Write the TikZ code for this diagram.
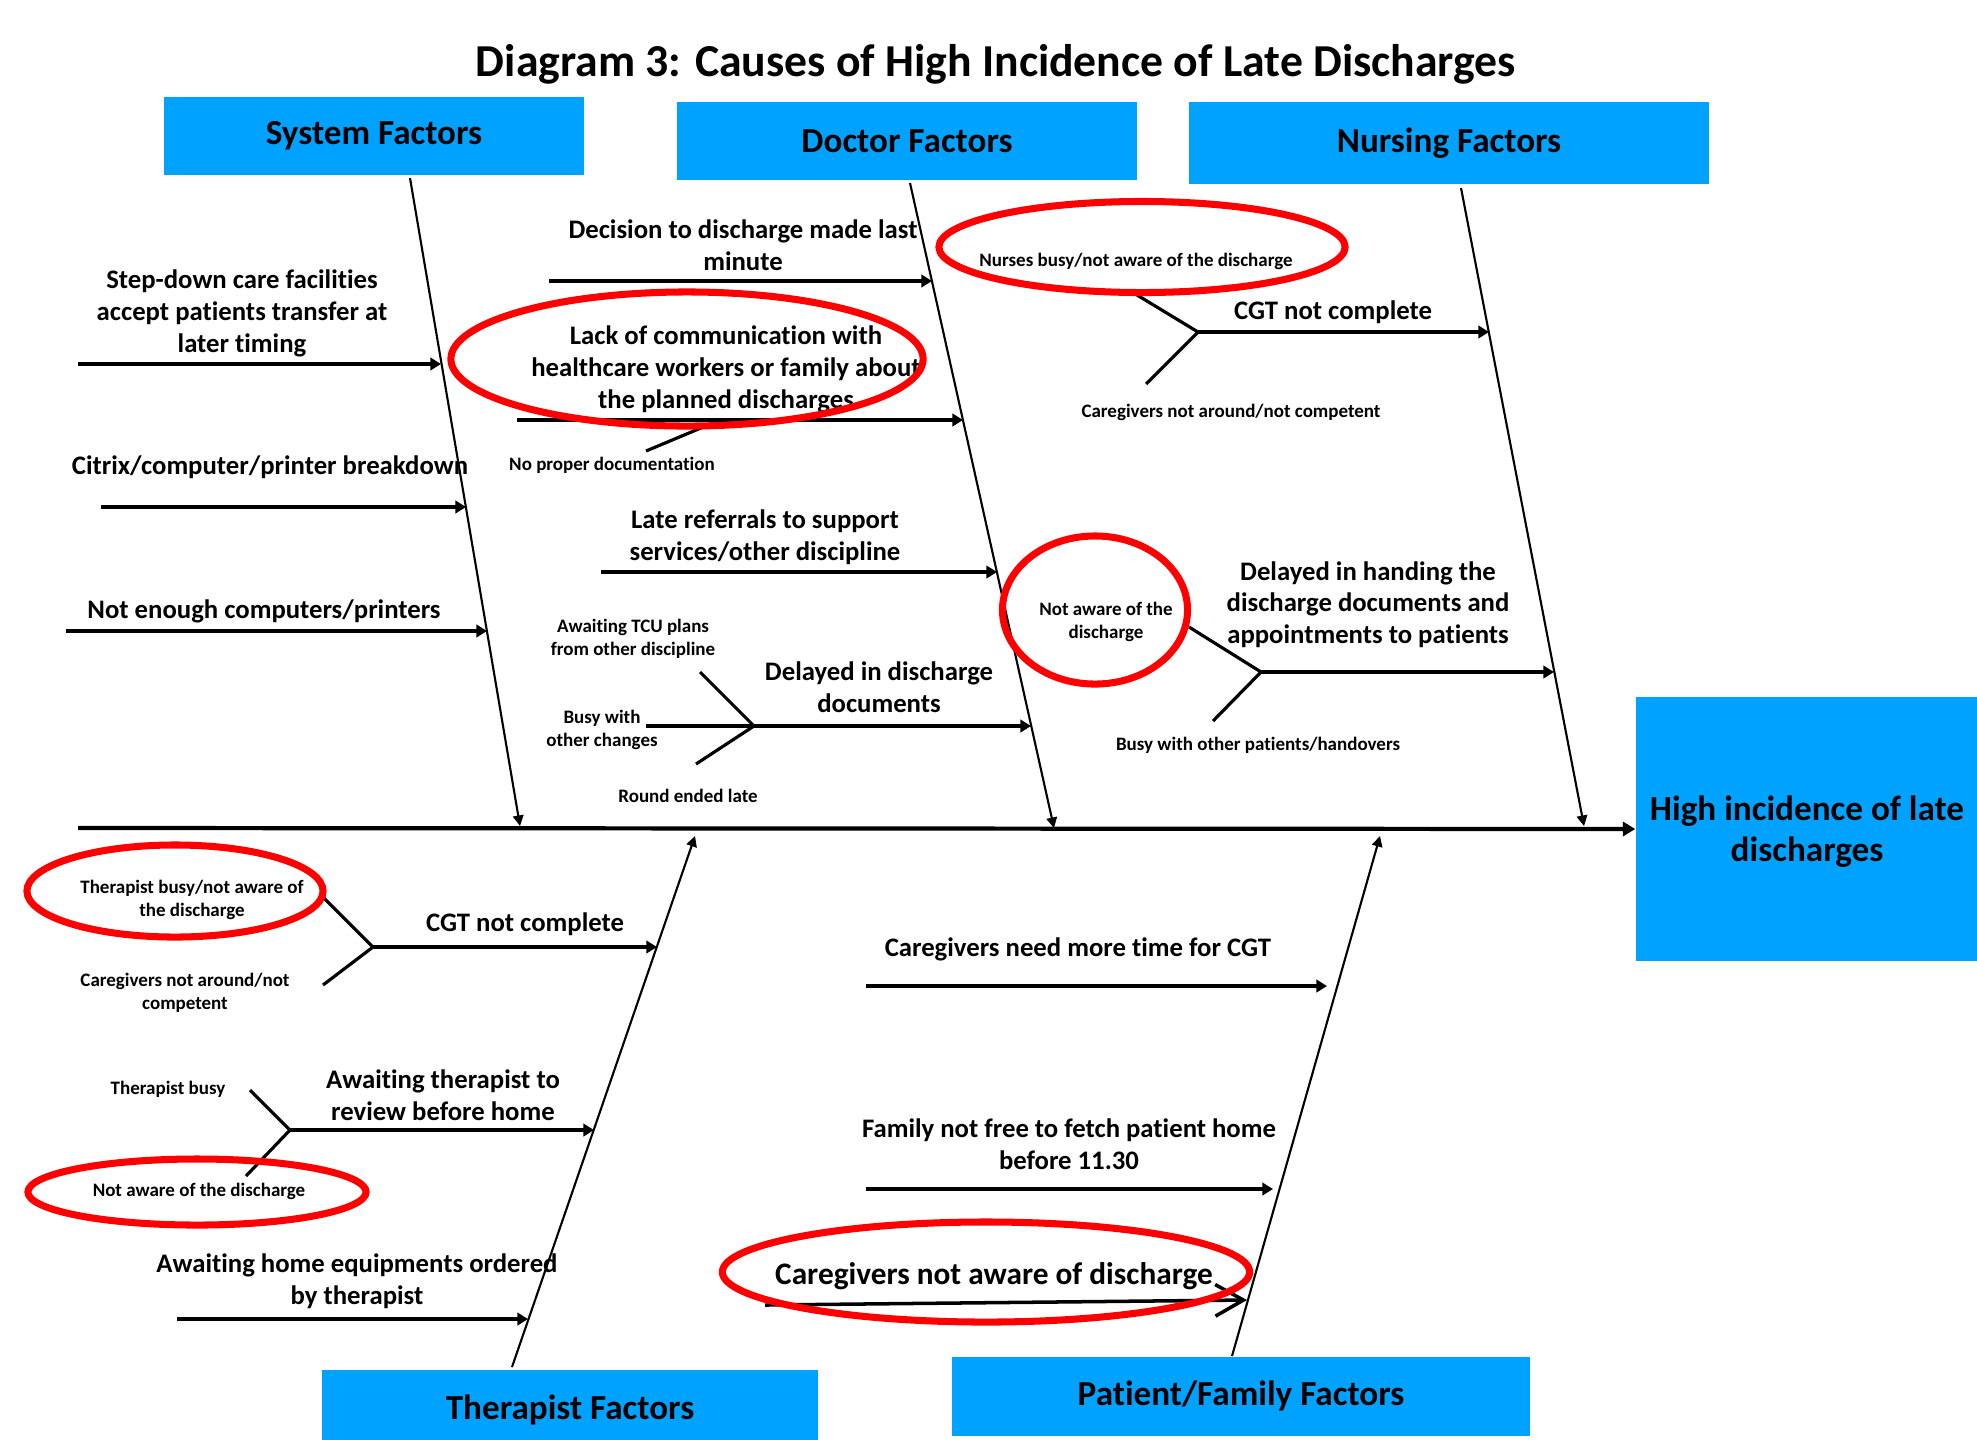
\documentclass[tikz,border=0pt]{standalone}
\usepackage{fontspec}
\setmainfont{Carlito}[Ligatures=NoCommon]
\usepackage{tikz}
\usetikzlibrary{calc,arrows.meta,positioning,shapes.geometric}
\definecolor{bluex}{HTML}{00A2FF}
\definecolor{redx}{HTML}{FF0000}
\tikzset{
  fbox/.style={fill=bluex,inner sep=0pt,align=center,font=\bfseries\fontsize{10}{11.8}\selectfont},
  ct/.style={align=center,inner sep=0pt,yshift=-0.7pt,font=\bfseries\fontsize{7.6}{9}\selectfont},
  st/.style={align=center,inner sep=0pt,yshift=-0.5pt,font=\bfseries\fontsize{5.4}{6.5}\selectfont},
  ring/.style={ellipse,draw=redx,line width=2pt,inner sep=0pt},
  bone/.style={-{Triangle[length=3pt,width=3pt]},line width=0.6pt},
  ar/.style={-{Triangle[length=3pt,width=3.5pt]},line width=1pt},
  fk/.style={line width=0.9pt},
  sp/.style={-{Triangle[length=3.5pt,width=4pt]},line width=1.2pt}
}
\begin{document}
\begin{tikzpicture}[x=0.01cm,y=-0.01cm]
\useasboundingbox (0,0) rectangle (1977,1439);
\node[font=\bfseries\fontsize{13}{15}\selectfont] (title) at (996,64) {Diagram 3: Causes of High Incidence of Late Discharges};
\node[fbox,minimum width=4.2cm,minimum height=0.78cm] (sys) at (374,136) {System Factors};
\node[fbox,minimum width=4.6cm,minimum height=0.78cm] (doc) at (907,141) {Doctor Factors};
\node[fbox,minimum width=5.19cm,minimum height=0.81cm] (nur) at (1449,143) {Nursing Factors};
\node[fbox,minimum width=4.95cm,minimum height=0.8cm] (ther) at (570,1410) {Therapist Factors};
\node[fbox,minimum width=5.78cm,minimum height=0.79cm] (pat) at (1241,1396) {Patient/Family Factors};
\node[fbox,minimum width=3.42cm,minimum height=2.63cm] (hd) at (1807,829) {\raisebox{-3.6pt}[0pt][0pt]{\begin{tabular}{@{}c@{}}High incidence of late\\discharges\end{tabular}}};

\coordinate (spL) at (78,828);
\coordinate (sysT) at (410,178);  \coordinate (sysB) at (520,826);
\coordinate (docT) at (910,183);  \coordinate (docB) at (1054,828);
\coordinate (nurT) at (1461,188); \coordinate (nurB) at (1584,826);
\coordinate (thB) at (512,1367);  \coordinate (thT) at (695,836);
\coordinate (paB) at (1232,1356); \coordinate (paT) at (1380,836);
\draw[sp] (spL) -- (hd.west);
\draw[bone] (sysT) -- (sysB);
\draw[bone] (docT) -- (docB);
\draw[bone] (nurT) -- (nurB);
\draw[bone] (thB) -- (thT);
\draw[bone] (paB) -- (paT);

\foreach \n/\xa/\xb/\yy in {sy1/78/441/364,sy2/101/466/507,sy3/66/487/631,
  dc1/549/932/281,dc2/517/963/420,dc3/601/997/572,dc4/646/1031/726,
  nu1/1198/1489/332,nu2/1261/1554/672,
  th1/373/657/947,th2/290/594/1130,th3/177/528/1319,
  pa1/866/1327/986,pa2/866/1273/1189}{
  \coordinate (\n-s) at (\xa,\yy);
  \coordinate (\n-e) at (\xb,\yy);
  \draw[ar] (\n-s) -- (\n-e);
}
\coordinate (pa3-s) at (765,1305);
\coordinate (pa3-e) at (1247,1300);
\draw[line width=1pt,-{Straight Barb[length=8pt,width=9pt]}] (pa3-s) -- (pa3-e);

\coordinate (dcF) at (754,726);
\coordinate (dcU) at (700,672);   \coordinate (dcD) at (696,764);
\coordinate (nu1U) at (1137,295); \coordinate (nu1D) at (1146,384);
\coordinate (nu2U) at (1189,627); \coordinate (nu2D) at (1213,721);
\coordinate (th1U) at (322,896);  \coordinate (th1D) at (323,985);
\coordinate (th2U) at (250,1090); \coordinate (th2D) at (246,1176);
\coordinate (dcN1) at (646,451);  \coordinate (dcN2) at (720,420);
\draw[fk] (dcU) -- (dcF) -- (dcD);
\draw[fk] (nu1U) -- (nu1-s) -- (nu1D);
\draw[fk] (nu2U) -- (nu2-s) -- (nu2D);
\draw[fk] (th1U) -- (th1-s) -- (th1D);
\draw[fk] (th2U) -- (th2-s) -- (th2D);
\draw[fk] (dcN1) -- (dcN2);

\node[ct] (tStep) at (242,311) {Step-down care facilities\\accept patients transfer at\\later timing};
\node[ct] (tCitrix) at (270,465) {Citrix/computer/printer breakdown};
\node[ct] (tNotEn) at (264,609) {Not enough computers/printers};
\node[ct] (tDecis) at (743,243) {Decision to discharge made last\\minute};
\node[ct] (tLack) at (726,367) {Lack of communication with\\healthcare workers or family about\\the planned discharges};
\node[ct] (tLate) at (765,535) {Late referrals to support\\services/other discipline};
\node[ct] (tDelDoc) at (879,685) {Delayed in discharge\\documents};
\node[ct] (tCgtN) at (1333,310) {CGT not complete};
\node[ct] (tHand) at (1368,602) {Delayed in handing the\\discharge documents and\\appointments to patients};
\node[ct] (tCgtT) at (525,922) {CGT not complete};
\node[ct] (tAwTh) at (443,1093) {Awaiting therapist to\\review before home};
\node[ct] (tAwEq) at (357,1279) {Awaiting home equipments ordered\\by therapist};
\node[ct] (tCgNeed) at (1078,947) {Caregivers need more time for CGT};
\node[ct] (tFam) at (1069,1142) {Family not free to fetch patient home\\before 11.30};
\node[ct,font=\bfseries\fontsize{8.9}{10.5}\selectfont] (tCgAw) at (994,1274) {Caregivers not aware of discharge};

\node[st] (tNoDoc) at (612,464) {No proper documentation};
\node[st] (tTcu) at (633,637) {Awaiting TCU plans\\from other discipline};
\node[st] (tBusyCh) at (602,728) {Busy with\\other changes};
\node[st] (tRound) at (688,794) {Round ended late};
\node[st] (tNurBusy) at (1136,260) {Nurses busy/not aware of the discharge};
\node[st] (tCgNur) at (1231,411) {Caregivers not around/not competent};
\node[st] (tNotAw) at (1106,620) {Not aware of the\\discharge};
\node[st] (tBusyPat) at (1258,744) {Busy with other patients/handovers};
\node[st] (tThBusy) at (192,898) {Therapist busy/not aware of\\the discharge};
\node[st] (tCgTh) at (185,991) {Caregivers not around/not\\competent};
\node[st] (tThB) at (168,1088) {Therapist busy};
\node[st] (tNotAwT) at (199,1190) {Not aware of the discharge};

\node[ring,minimum width=4.72cm,minimum height=1.34cm] (rLack) at (687,359) {};
\node[ring,minimum width=4.06cm,minimum height=0.91cm] (rNur) at (1142,247) {};
\node[ring,minimum width=1.85cm,minimum height=1.48cm] (rNotAw) at (1095,610) {};
\node[ring,minimum width=2.96cm,minimum height=0.92cm] (rTh) at (175,891) {};
\node[ring,minimum width=3.38cm,minimum height=0.66cm] (rNotAwT) at (197,1192) {};
\node[ring,minimum width=5.27cm,minimum height=1cm] (rCgAw) at (986,1272) {};
\end{tikzpicture}
\end{document}
